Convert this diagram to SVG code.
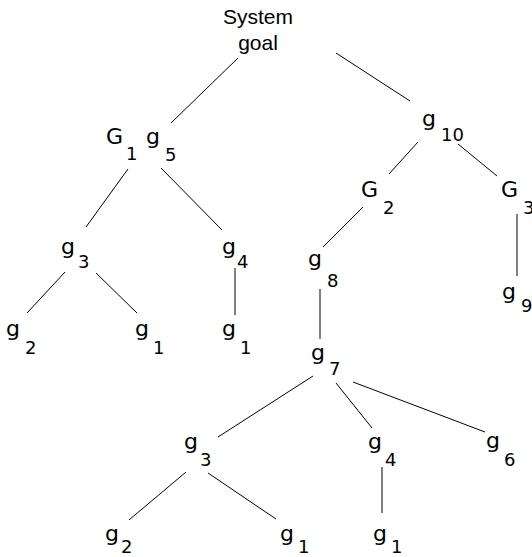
<svg xmlns="http://www.w3.org/2000/svg" width="532" height="557" viewBox="0 0 532 557">
  <style>
    .bg { fill: #ffffff; }
    .edge { stroke: #000000; stroke-width: 1; fill: none; }
    .root { font-family: "Liberation Sans", Arial, sans-serif; font-size: 21px; fill: #000000; text-anchor: middle; }
    .sym { font-family: "DejaVu Sans", Verdana, sans-serif; font-size: 22px; fill: #000000; }
    .sub { font-family: "DejaVu Sans", Verdana, sans-serif; font-size: 18px; fill: #000000; }
  </style>
  <rect class="bg" x="0" y="0" width="532" height="557"/>

  <!-- connectors -->
  <g id="edges">
    <line class="edge" x1="238" y1="58" x2="171" y2="123"/>
    <line class="edge" x1="336" y1="53" x2="410" y2="101"/>
    <line class="edge" x1="128" y1="169" x2="86" y2="227"/>
    <line class="edge" x1="161" y1="168" x2="222" y2="230"/>
    <line class="edge" x1="65" y1="272" x2="27" y2="313"/>
    <line class="edge" x1="96" y1="273" x2="137" y2="313"/>
    <line class="edge" x1="235" y1="268" x2="235" y2="315"/>
    <line class="edge" x1="418" y1="142" x2="389" y2="174"/>
    <line class="edge" x1="458" y1="144" x2="497" y2="176"/>
    <line class="edge" x1="363" y1="207" x2="323" y2="247"/>
    <line class="edge" x1="517" y1="214" x2="517" y2="276"/>
    <line class="edge" x1="320" y1="289" x2="320" y2="339"/>
    <line class="edge" x1="313" y1="376" x2="218" y2="437"/>
    <line class="edge" x1="336" y1="383" x2="372" y2="428"/>
    <line class="edge" x1="353" y1="382" x2="485" y2="432"/>
    <line class="edge" x1="186" y1="472" x2="129" y2="520"/>
    <line class="edge" x1="208" y1="473" x2="276" y2="519"/>
    <line class="edge" x1="382" y1="467" x2="382" y2="513"/>
  </g>

  <!-- nodes -->
  <g id="system-goal">
    <text class="root" x="258" y="24">System</text>
    <text class="root" x="258" y="50">goal</text>
  </g>
  <g id="G1-g5">
    <text class="sym" x="106" y="144">G</text>
    <text class="sub" x="126" y="160">1</text>
    <text class="sym" x="146" y="144">g</text>
    <text class="sub" x="165" y="161">5</text>
  </g>
  <g id="g10">
    <text class="sym" x="422" y="126">g</text>
    <text class="sub" x="441" y="141">10</text>
  </g>
  <g id="G2">
    <text class="sym" x="361" y="197">G</text>
    <text class="sub" x="383" y="214">2</text>
  </g>
  <g id="G3">
    <text class="sym" x="501" y="197">G</text>
    <text class="sub" x="523" y="214">3</text>
  </g>
  <g id="g3-a">
    <text class="sym" x="61" y="254">g</text>
    <text class="sub" x="78" y="268">3</text>
  </g>
  <g id="g4-a">
    <text class="sym" x="222" y="254">g</text>
    <text class="sub" x="237" y="268">4</text>
  </g>
  <g id="g2-a">
    <text class="sym" x="6" y="336">g</text>
    <text class="sub" x="25" y="354">2</text>
  </g>
  <g id="g1-a">
    <text class="sym" x="135" y="336">g</text>
    <text class="sub" x="153" y="354">1</text>
  </g>
  <g id="g1-b">
    <text class="sym" x="222" y="336">g</text>
    <text class="sub" x="240" y="354">1</text>
  </g>
  <g id="g8">
    <text class="sym" x="308" y="266">g</text>
    <text class="sub" x="327" y="287">8</text>
  </g>
  <g id="g9">
    <text class="sym" x="502" y="299">g</text>
    <text class="sub" x="521" y="312">9</text>
  </g>
  <g id="g7">
    <text class="sym" x="311" y="360">g</text>
    <text class="sub" x="329" y="375">7</text>
  </g>
  <g id="g3-b">
    <text class="sym" x="184" y="449">g</text>
    <text class="sub" x="200" y="466">3</text>
  </g>
  <g id="g4-b">
    <text class="sym" x="368" y="449">g</text>
    <text class="sub" x="385" y="466">4</text>
  </g>
  <g id="g6">
    <text class="sym" x="486" y="448">g</text>
    <text class="sub" x="504" y="466">6</text>
  </g>
  <g id="g2-b">
    <text class="sym" x="105" y="541">g</text>
    <text class="sub" x="121" y="553">2</text>
  </g>
  <g id="g1-c">
    <text class="sym" x="280" y="541">g</text>
    <text class="sub" x="298" y="553">1</text>
  </g>
  <g id="g1-d">
    <text class="sym" x="373" y="541">g</text>
    <text class="sub" x="391" y="553">1</text>
  </g>
</svg>
